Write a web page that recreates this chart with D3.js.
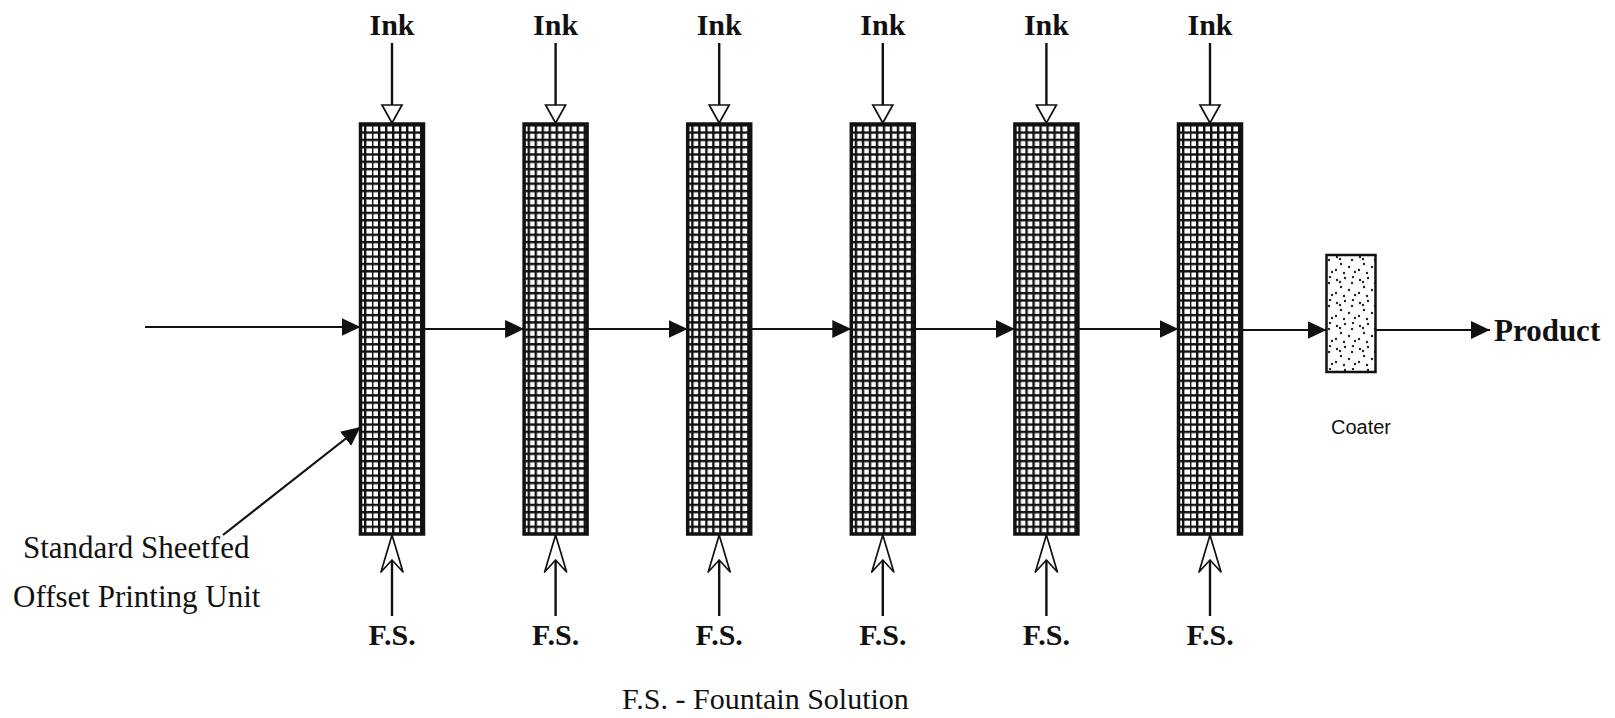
<!DOCTYPE html>
<html>
<head>
<meta charset="utf-8">
<script src="https://cdn.jsdelivr.net/npm/d3@7"></script>
<style>
  html, body { margin: 0; padding: 0; background: #fff; }
  svg { display: block; }
  .serif { font-family: "Times New Roman", "Liberation Serif", serif; fill: #111; }
  .sans { font-family: Arial, "Liberation Sans", sans-serif; fill: #111; }
</style>
</head>
<body>
<div id="chart"></div>
<script>
  /* -----------------------
      DATA
   -------------------------- */

  //-- PRINTING UNITS AND THEIR INPUTS
  var units = ['Unit 1', 'Unit 2', 'Unit 3', 'Unit 4', 'Unit 5', 'Unit 6'];
  var topInputs = ['Ink', 'Ink', 'Ink', 'Ink', 'Ink', 'Ink'];
  var bottomInputs = ['F.S.', 'F.S.', 'F.S.', 'F.S.', 'F.S.', 'F.S.'];

  //-- OTHER TEXTS
  var unitNote = ['Standard Sheetfed', 'Offset Printing Unit'];
  var coaterLabel = ['Coater'];
  var outputLabel = ['Product'];
  var legendNote = ['F.S. - Fountain Solution'];

  /* -----------------------
      LAYOUT
   -------------------------- */
  var W = 1615, H = 718;
  var boxW = 63, boxTop = 124, boxBot = 534, flowY = 329;
  var coater = { x: 1351, w: 49, top: 255, bot: 372 };

  var x = d3.scalePoint()
    .domain(units)
    .range([392, 1210]);

  var svg = d3.select('#chart').append('svg')
    .attr('width', W)
    .attr('height', H);

  svg.append('rect').attr('width', W).attr('height', H).attr('fill', '#fff');

  var defs = svg.append('defs');

  //-- GRID TEXTURE FOR THE PRINTING UNITS
  var grid = defs.append('pattern')
    .attr('id', 'grid')
    .attr('patternUnits', 'userSpaceOnUse')
    .attr('width', 7).attr('height', 7.3);
  grid.append('rect').attr('width', 7).attr('height', 7.3).attr('fill', '#fff');
  grid.append('rect').attr('width', 2.4).attr('height', 7.3).attr('fill', '#111');
  grid.append('rect').attr('width', 7).attr('height', 2.4).attr('fill', '#111');

  //-- STIPPLE TEXTURE FOR THE COATER
  var dots = [[3, 4], [11, 2], [18, 7], [7, 11], [15, 14], [2, 17], [21, 19], [10, 20], [19, 1], [6, 6]];
  var stip = defs.append('pattern')
    .attr('id', 'stipple')
    .attr('patternUnits', 'userSpaceOnUse')
    .attr('width', 23).attr('height', 23);
  stip.append('rect').attr('width', 23).attr('height', 23).attr('fill', '#fff');
  stip.selectAll('circle').data(dots).enter().append('circle')
    .attr('cx', function(d) { return d[0]; })
    .attr('cy', function(d) { return d[1]; })
    .attr('r', 1.2)
    .attr('fill', '#222');

  //-- FILLED ARROW HEAD
  defs.append('marker')
    .attr('id', 'head')
    .attr('markerUnits', 'userSpaceOnUse')
    .attr('viewBox', '0 -10 20 20')
    .attr('refX', 19).attr('refY', 0)
    .attr('markerWidth', 20).attr('markerHeight', 20)
    .attr('orient', 'auto')
    .append('path')
    .attr('d', 'M0,-9L19,0L0,9Z')
    .attr('fill', '#111');

  /* -----------------------
      FLOW LINES
   -------------------------- */
  var flows = [];
  flows.push({ x1: 145, y1: flowY - 2, x2: x(units[0]) - boxW / 2, y2: flowY - 2 });
  units.forEach(function(u, i) {
    if (i < units.length - 1) {
      flows.push({ x1: x(u) + boxW / 2, y1: flowY, x2: x(units[i + 1]) - boxW / 2, y2: flowY });
    }
  });
  flows.push({ x1: x(units[units.length - 1]) + boxW / 2, y1: flowY + 1, x2: coater.x - coater.w / 2, y2: flowY + 1 });
  flows.push({ x1: coater.x + coater.w / 2, y1: flowY + 1, x2: 1490, y2: flowY + 1 });
  //-- POINTER FROM NOTE TO FIRST UNIT
  flows.push({ x1: 223, y1: 535, x2: x(units[0]) - boxW / 2, y2: 427 });

  svg.append('g').selectAll('line').data(flows).enter().append('line')
    .attr('x1', function(d) { return d.x1; })
    .attr('y1', function(d) { return d.y1; })
    .attr('x2', function(d) { return d.x2; })
    .attr('y2', function(d) { return d.y2; })
    .attr('stroke', '#111')
    .attr('stroke-width', 2.2)
    .attr('marker-end', 'url(#head)');

  /* -----------------------
      UNITS
   -------------------------- */
  var unitG = svg.append('g').selectAll('g').data(units).enter().append('g')
    .attr('transform', function(d) { return 'translate(' + x(d) + ',0)'; });

  unitG.append('rect')
    .attr('x', -boxW / 2)
    .attr('y', boxTop)
    .attr('width', boxW)
    .attr('height', boxBot - boxTop)
    .attr('fill', 'url(#grid)')
    .attr('stroke', '#111')
    .attr('stroke-width', 3.5);

  //-- INK INPUT (OPEN TRIANGLE HEAD)
  unitG.append('line')
    .attr('x1', 0).attr('x2', 0)
    .attr('y1', 43).attr('y2', boxTop - 18)
    .attr('stroke', '#111').attr('stroke-width', 2.4);
  unitG.append('path')
    .attr('d', 'M-10,' + (boxTop - 19) + 'L10,' + (boxTop - 19) + 'L0,' + (boxTop - 1) + 'Z')
    .attr('fill', '#fff').attr('stroke', '#111').attr('stroke-width', 1.7);
  unitG.append('text')
    .attr('class', 'serif')
    .attr('y', 35)
    .attr('text-anchor', 'middle')
    .attr('font-size', 30)
    .attr('font-weight', 'bold')
    .text(function(d, i) { return topInputs[i]; });

  //-- FOUNTAIN SOLUTION INPUT (OPEN BARBED HEAD)
  unitG.append('line')
    .attr('x1', 0).attr('x2', 0)
    .attr('y1', 616).attr('y2', boxBot + 26)
    .attr('stroke', '#111').attr('stroke-width', 2.4);
  unitG.append('path')
    .attr('d', 'M0,' + (boxBot + 1) + 'L11,' + (boxBot + 38) + 'L0,' + (boxBot + 26) + 'L-11,' + (boxBot + 38) + 'Z')
    .attr('fill', '#fff').attr('stroke', '#111').attr('stroke-width', 1.7).attr('stroke-linejoin', 'round');
  unitG.append('text')
    .attr('class', 'serif')
    .attr('y', 645)
    .attr('text-anchor', 'middle')
    .attr('font-size', 30)
    .attr('font-weight', 'bold')
    .text(function(d, i) { return bottomInputs[i]; });

  /* -----------------------
      COATER
   -------------------------- */
  svg.append('rect')
    .attr('x', coater.x - coater.w / 2)
    .attr('y', coater.top)
    .attr('width', coater.w)
    .attr('height', coater.bot - coater.top)
    .attr('fill', 'url(#stipple)')
    .attr('stroke', '#111')
    .attr('stroke-width', 2.5);

  svg.append('text')
    .attr('class', 'sans')
    .attr('x', coater.x + 10)
    .attr('y', 434)
    .attr('text-anchor', 'middle')
    .attr('font-size', 20)
    .text(coaterLabel[0]);

  svg.append('text')
    .attr('class', 'serif')
    .attr('x', 1494)
    .attr('y', 341)
    .attr('font-size', 31)
    .attr('font-weight', 'bold')
    .text(outputLabel[0]);

  /* -----------------------
      NOTES
   -------------------------- */
  svg.append('g').selectAll('text').data(unitNote).enter().append('text')
    .attr('class', 'serif')
    .attr('x', function(d, i) { return i === 0 ? 23 : 13; })
    .attr('y', function(d, i) { return 558 + i * 49; })
    .attr('font-size', 31)
    .text(function(d) { return d; });

  svg.append('text')
    .attr('class', 'serif')
    .attr('x', 622)
    .attr('y', 709)
    .attr('font-size', 30)
    .text(legendNote[0]);
</script>
</body>
</html>
